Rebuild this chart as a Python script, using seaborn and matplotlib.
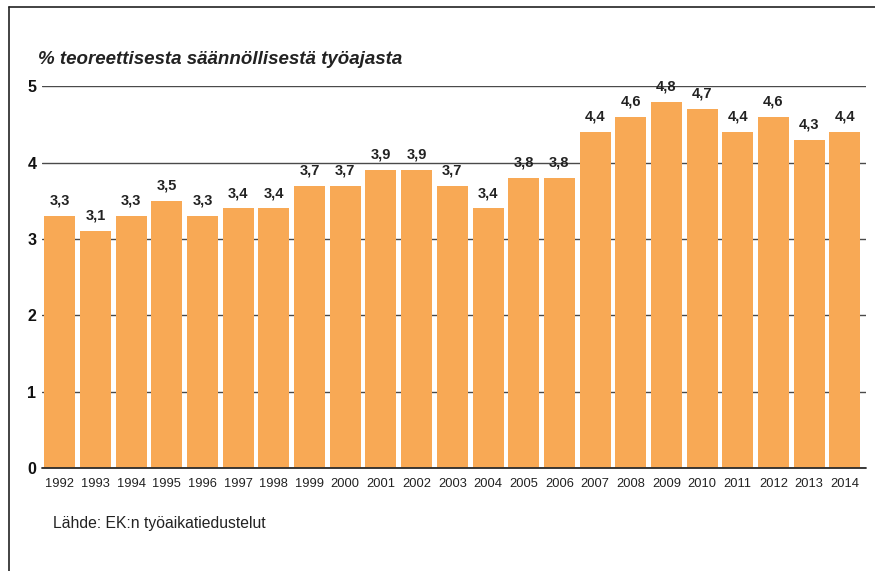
import matplotlib
matplotlib.use("Agg")
import matplotlib.pyplot as plt
import seaborn as sns
import pandas as pd
from matplotlib.lines import Line2D

years = [str(y) for y in range(1992, 2015)]
values = [3.3, 3.1, 3.3, 3.5, 3.3, 3.4, 3.4, 3.7, 3.7, 3.9, 3.9, 3.7, 3.4,
          3.8, 3.8, 4.4, 4.6, 4.8, 4.7, 4.4, 4.6, 4.3, 4.4]
yticks = [0, 1, 2, 3, 4, 5]

df = pd.DataFrame({"year": years, "value": values})

sns.set_style("white")
plt.rcParams["font.family"] = ["Liberation Sans", "DejaVu Sans"]

fig = plt.figure(figsize=(8.75, 5.71), dpi=100)
ax = fig.add_axes([0.048, 0.180, 0.942, 0.669])

sns.barplot(data=df, x="year", y="value", color="#F8A955", saturation=1,
            width=0.87, linewidth=0, ax=ax)

for i, v in enumerate(values):
    ax.text(i, v + 0.11, f"{v:.1f}".replace(".", ","), ha="center", va="bottom",
            fontsize=10.5, fontweight="bold", color="#222222")

ax.set_ylim(0, 5)
ax.set_xlim(-0.5, 22.6)
ax.set_yticks(yticks)
ax.set_yticklabels([str(t) for t in yticks], fontsize=11.5, fontweight="bold", color="#111111")
# horizontal grid kept below the bars, baseline on top
ax.set_axisbelow(True)
ax.yaxis.grid(True, color="#4a4a4a", linewidth=1.0)
ax.xaxis.grid(False)
ax.axhline(0, color="#2a2a2a", lw=1.3, zorder=5, clip_on=False)
ax.tick_params(axis="y", length=0, pad=4)
ax.tick_params(axis="x", length=0, pad=7, labelsize=9.3, labelcolor="#222222")
ax.set_xlabel("")
ax.set_ylabel("")
for s in ax.spines.values():
    s.set_visible(False)

fig.text(0.044, 0.895, "% teoreettisesta säännöllisestä työajasta", fontsize=13.5,
         fontweight="bold", fontstyle="italic", color="#222222", va="center")
fig.text(0.061, 0.084, "Lähde: EK:n työaikatiedustelut", fontsize=11.3, color="#222222", va="center")

# frame lines
fig.add_artist(Line2D([0.0103, 0.0103], [0, 0.988], color="#222222", lw=1.2, transform=fig.transFigure))
fig.add_artist(Line2D([0.0103, 1.0], [0.988, 0.988], color="#222222", lw=1.2, transform=fig.transFigure))

fig.savefig("out.png", dpi=100)
